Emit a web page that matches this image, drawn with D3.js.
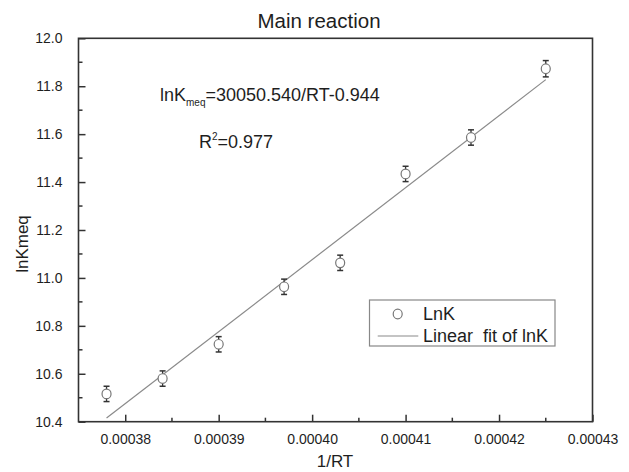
<!DOCTYPE html>
<html><head><meta charset="utf-8">
<script src="https://cdn.jsdelivr.net/npm/d3@7/dist/d3.min.js"></script>
<style>body{margin:0;background:#fff}svg{font-family:"Liberation Sans",Arial,sans-serif}</style>
</head><body><svg id="c" width="629" height="472"></svg>
<script>
const invRT = [0.000378, 0.000384, 0.000390, 0.000397, 0.000403, 0.000410, 0.000417, 0.000425];
const lnK   = [10.516, 10.580, 10.723, 10.963, 11.063, 11.434, 11.586, 11.873];
const errK  = [0.032, 0.032, 0.032, 0.032, 0.032, 0.032, 0.032, 0.034];
const fitSlope = 30050.540, fitIntercept = -0.944;
const xTicks = [0.00038, 0.00039, 0.00040, 0.00041, 0.00042, 0.00043];
const xMinor = [0.000385, 0.000395, 0.000405, 0.000415, 0.000425];
const yTicks = [10.4, 10.6, 10.8, 11.0, 11.2, 11.4, 11.6, 11.8, 12.0];
const yMinor = [10.5, 10.7, 10.9, 11.1, 11.3, 11.5, 11.7, 11.9];

const svg = d3.select("#c");
const L = 78.5, R = 592.5, T = 38.3, B = 421.7;
const x = d3.scaleLinear().domain([0.000375, 0.00043]).range([L, R]);
const y = d3.scaleLinear().domain([10.4, 12.0]).range([B, T]);
const txt = "#1e1e1e", axc = "#333";

// frame
svg.append("rect").attr("x", L).attr("y", T).attr("width", R - L).attr("height", B - T)
  .attr("fill", "none").attr("stroke", axc).attr("stroke-width", 1.6);

// x axis
const gx = svg.append("g").attr("transform", `translate(0,${B})`)
  .call(d3.axisBottom(x).tickValues(xTicks).tickSize(-7).tickPadding(12).tickFormat(d3.format(".5f")));
gx.select(".domain").remove();
gx.selectAll("line").attr("stroke", axc).attr("stroke-width", 1.5);
gx.selectAll("text").attr("font-size", 14).attr("fill", txt).attr("font-family", "Liberation Sans, Arial");
gx.selectAll(".minor").data(xMinor).enter().append("line").attr("class","minor")
  .attr("x1", d => x(d)).attr("x2", d => x(d)).attr("y1", 0).attr("y2", -4)
  .attr("stroke", axc).attr("stroke-width", 1.5);

// y axis
const gy = svg.append("g").attr("transform", `translate(${L},0)`)
  .call(d3.axisLeft(y).tickValues(yTicks).tickSize(-7).tickPadding(16).tickFormat(d3.format(".1f")));
gy.select(".domain").remove();
gy.selectAll("line").attr("stroke", axc).attr("stroke-width", 1.5);
gy.selectAll("text").attr("font-size", 14).attr("fill", txt).attr("font-family", "Liberation Sans, Arial");
gy.selectAll(".minor").data(yMinor).enter().append("line").attr("class","minor")
  .attr("x1", 0).attr("x2", 4).attr("y1", d => y(d)).attr("y2", d => y(d))
  .attr("stroke", axc).attr("stroke-width", 1.5);

// fit line
const xFit = d3.extent(invRT);
svg.append("line")
  .attr("x1", x(xFit[0])).attr("y1", y(fitSlope * xFit[0] + fitIntercept))
  .attr("x2", x(xFit[1])).attr("y2", y(fitSlope * xFit[1] + fitIntercept))
  .attr("stroke", "#8a8a8a").attr("stroke-width", 1.2);

// error bars + points
const pts = invRT.map((v, i) => ({x: v, y: lnK[i], e: errK[i]}));
const ge = svg.append("g");
pts.forEach(p => {
  const cx = x(p.x);
  ge.append("line").attr("x1", cx).attr("x2", cx).attr("y1", y(p.y + p.e)).attr("y2", y(p.y - p.e))
    .attr("stroke", "#333").attr("stroke-width", 1.3);
  [p.y + p.e, p.y - p.e].forEach(v => ge.append("line")
    .attr("x1", cx - 3).attr("x2", cx + 3).attr("y1", y(v)).attr("y2", y(v))
    .attr("stroke", "#333").attr("stroke-width", 1.5));
});
svg.append("g").selectAll("ellipse").data(pts).enter().append("ellipse")
  .attr("cx", d => x(d.x)).attr("cy", d => y(d.y)).attr("rx", 4.5).attr("ry", 4.8)
  .attr("fill", "#fff").attr("stroke", "#777").attr("stroke-width", 1.2);

// title and axis labels
svg.append("text").attr("x", 319).attr("y", 28).attr("text-anchor", "middle")
  .attr("font-size", 20.5).attr("fill", txt).text("Main reaction");
svg.append("text").attr("x", 335).attr("y", 467).attr("text-anchor", "middle")
  .attr("font-size", 17).attr("fill", txt).text("1/RT");
svg.append("text").attr("transform", "translate(28,244) rotate(-90)").attr("text-anchor", "middle")
  .attr("font-size", 17).attr("fill", txt).text("lnKmeq");

// equation annotations
const eq = svg.append("text").attr("x", 160).attr("y", 101).attr("font-size", 18).attr("fill", txt);
eq.append("tspan").text("lnK");
eq.append("tspan").attr("font-size", 10).attr("dy", 5).text("meq");
eq.append("tspan").attr("dy", -5).text("=30050.540/RT-0.944");
const r2 = svg.append("text").attr("x", 199).attr("y", 148).attr("font-size", 18).attr("fill", txt);
r2.append("tspan").text("R");
r2.append("tspan").attr("font-size", 10).attr("dy", -8).text("2");
r2.append("tspan").attr("dy", 8).text("=0.977");

// legend
const lg = svg.append("g");
lg.append("rect").attr("x", 369.5).attr("y", 300).attr("width", 185.5).attr("height", 46)
  .attr("fill", "#fff").attr("stroke", "#888").attr("stroke-width", 1.2);
lg.append("ellipse").attr("cx", 397.7).attr("cy", 314).attr("rx", 4.5).attr("ry", 4.8)
  .attr("fill", "#fff").attr("stroke", "#777").attr("stroke-width", 1.2);
lg.append("text").attr("x", 423).attr("y", 320).attr("font-size", 18).attr("fill", txt).text("LnK");
lg.append("line").attr("x1", 377.7).attr("x2", 418.3).attr("y1", 336).attr("y2", 336)
  .attr("stroke", "#8a8a8a").attr("stroke-width", 1.2);
lg.append("text").attr("x", 423).attr("y", 342).attr("font-size", 18).attr("fill", txt)
  .attr("xml:space", "preserve").style("white-space", "pre").text("Linear  fit of lnK");
</script></body></html>
